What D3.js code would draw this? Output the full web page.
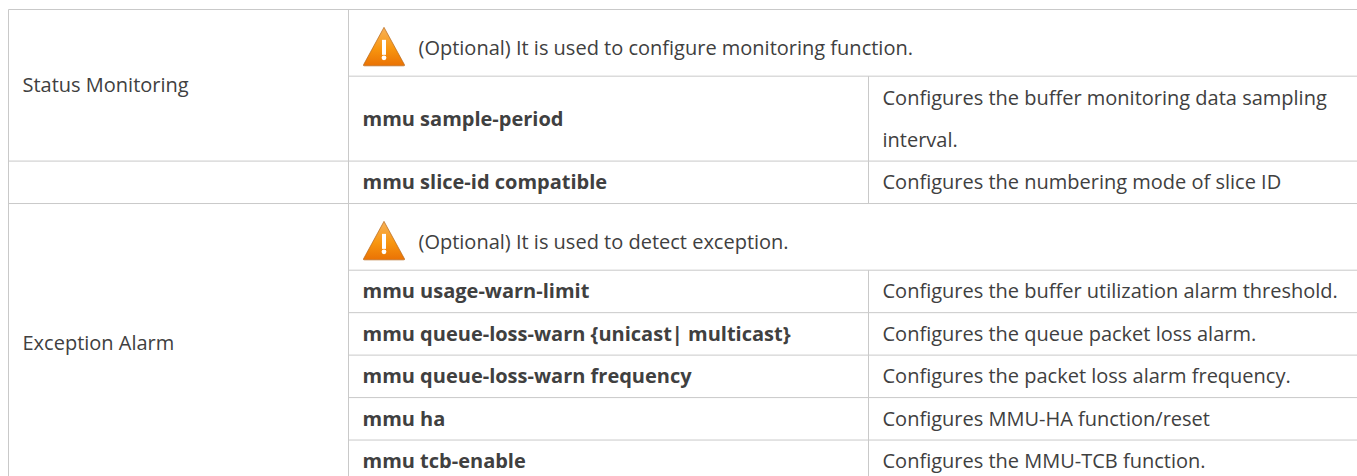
<!DOCTYPE html>
<html>
<head>
<meta charset="utf-8">
<script src="https://cdnjs.cloudflare.com/ajax/libs/d3/7.8.5/d3.min.js"></script>
<style>
  html, body { margin: 0; background: #fff; overflow: hidden; }
  text { font-family: "Open Sans", sans-serif; fill: #404040; font-size: 20px; }
</style>
</head>
<body>
<svg width="1357" height="476"></svg>
<script>
const categories = ["Status Monitoring", "", "Exception Alarm"]
const group_rows = [[0, 2], [2, 3], [3, 9]]
const row_spans = [1.57, 2, 1, 1.57, 1, 1, 1, 1, 1]
const notes = ["(Optional) It is used to configure monitoring function.", null, null, "(Optional) It is used to detect exception.", null, null, null, null, null]
const commands = [null, "mmu sample-period", "mmu slice-id compatible", null, "mmu usage-warn-limit",
  "mmu queue-loss-warn {unicast| multicast}", "mmu queue-loss-warn frequency", "mmu ha", "mmu tcb-enable"]
const descriptions = [null,
  ["Configures the buffer monitoring data sampling", "interval."],
  ["Configures the numbering mode of slice ID"],
  null,
  ["Configures the buffer utilization alarm threshold."],
  ["Configures the queue packet loss alarm."],
  ["Configures the packet loss alarm frequency."],
  ["Configures MMU-HA function/reset"],
  ["Configures the MMU-TCB function."]]

const svg = d3.select("svg")
const edges = d3.cumsum([0].concat(row_spans))
const y = d3.scaleLinear().domain([0, d3.sum(row_spans)]).range([9.5, 482.5])
const x = d3.scaleOrdinal().domain(["group", "command", "description", "end"]).range([8.5, 348.5, 868.5, 1357])
const pad = 14
const line_gap = 42
const grid = "#c9c9c9"
const mid = i => y((edges[i] + edges[i + 1]) / 2)

const defs = svg.append("defs")
const g = defs.append("linearGradient").attr("id", "warn")
  .attr("x1", 0).attr("y1", 0).attr("x2", 0).attr("y2", 1)
g.append("stop").attr("offset", "0").attr("stop-color", "#f7b25a")
g.append("stop").attr("offset", "0.55").attr("stop-color", "#f8960f")
g.append("stop").attr("offset", "1").attr("stop-color", "#ea7204")

// grid lines
function hline(i, a) {
  svg.append("line").attr("x1", x(a)).attr("x2", x("end")).attr("y1", y(edges[i])).attr("y2", y(edges[i]))
    .attr("stroke", grid)
}
hline(0, "group")
d3.range(1, row_spans.length).forEach(i => {
  hline(i, group_rows.some(d => d[0] == i) ? "group" : "command")
})
;["group", "command"].forEach(c => {
  svg.append("line").attr("x1", x(c)).attr("x2", x(c)).attr("y1", y(0)).attr("y2", 476)
    .attr("stroke", grid)
})
row_spans.forEach((d, i) => {
  if (commands[i]) {
    svg.append("line").attr("x1", x("description")).attr("x2", x("description"))
      .attr("y1", y(edges[i])).attr("y2", y(edges[i + 1])).attr("stroke", grid)
  }
})

// group labels
svg.selectAll(".group").data(categories).enter().append("text")
  .attr("class", "group")
  .attr("x", x("group") + pad)
  .attr("y", (d, i) => y((edges[group_rows[i][0]] + edges[group_rows[i][1]]) / 2))
  .attr("dy", "0.35em")
  .text(d => d)

// notes with warning icon
const note_rows = notes.map((d, i) => ({ d, i })).filter(r => r.d)
const note = svg.selectAll(".note").data(note_rows).enter().append("g")
  .attr("class", "note")
  .attr("transform", r => `translate(${x("command") + 14},${mid(r.i)})`)
note.append("path").attr("d", "M21.5,-15.5 L42,22 Q42.5,23 41,23 L2,23 Q0.5,23 1,22 Z")
  .attr("fill", "url(#warn)").attr("stroke", "#b5691f").attr("stroke-width", 0.7)
note.append("rect").attr("x", 19.5).attr("y", -3).attr("width", 4).attr("height", 15).attr("fill", "#fff")
note.append("circle").attr("cx", 21.5).attr("cy", 15).attr("r", 2.4).attr("fill", "#fff")
note.append("text").attr("x", 56).attr("y", 5).attr("dy", "0.35em").text(r => r.d)

// commands
const cmd_rows = commands.map((d, i) => ({ d, i })).filter(r => r.d)
svg.selectAll(".cmd").data(cmd_rows).enter().append("text")
  .attr("class", "cmd")
  .attr("x", x("command") + 14)
  .attr("y", r => mid(r.i))
  .attr("dy", "0.35em")
  .attr("font-weight", 700)
  .text(r => r.d)

// descriptions
const desc_rows = descriptions.map((d, i) => ({ d, i })).filter(r => r.d)
svg.selectAll(".desc").data(desc_rows).enter().append("g")
  .attr("class", "desc")
  .selectAll("text").data(r => r.d.map((t, k) => ({ t, k, r }))).enter().append("text")
  .attr("x", x("description") + 14)
  .attr("y", e => mid(e.r.i) + (e.k - (e.r.d.length - 1) / 2) * line_gap)
  .attr("dy", "0.35em")
  .text(e => e.t)
</script>
</body>
</html>
